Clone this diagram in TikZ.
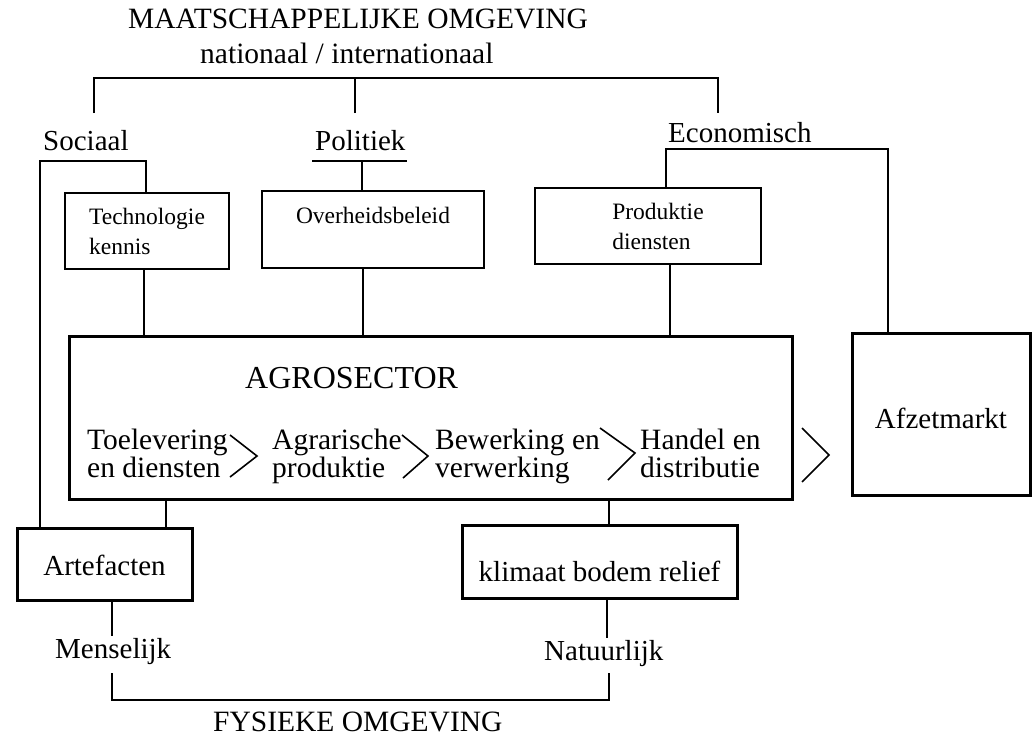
\documentclass[tikz,border=0pt]{standalone}
\usepackage{fontspec}
\setmainfont{Liberation Serif}
\begin{document}
\begin{tikzpicture}[x=1pt,y=-1pt,
  lbl/.style={inner sep=2pt, anchor=base west, font=\fontsize{29}{28}\selectfont},
  ttl/.style={inner sep=0pt, anchor=base west, font=\fontsize{29.5}{30}\selectfont},
  smallbox/.style={draw, line width=1.5pt, inner sep=0pt, font=\fontsize{23.5}{30}\selectfont, align=left},
  bigbox/.style={draw, line width=3pt, inner sep=0pt, font=\fontsize{29}{28}\selectfont},
  stage/.style={inner sep=0pt, anchor=base west, align=left, font=\fontsize{29.5}{28}\selectfont},
  conn/.style={line width=1.4pt},
  chev/.style={line width=1.6pt},
]
\useasboundingbox (0,0) rectangle (1032,737);

% titles
\node[ttl] (maat) at (128,28) {MAATSCHAPPELIJKE OMGEVING};
\node[ttl] (natint) at (200,63) {nationaal / internationaal};
\node[ttl] (fys) at (213,731) {FYSIEKE OMGEVING};

% labels
\node[lbl] (soc) at (41,150) {Sociaal};
\node[lbl] (pol) at (313,150) {Politiek};
\node[lbl] (eco) at (666,142) {Economisch};
\node[lbl] (mens) at (53,658) {Menselijk};
\node[lbl] (nat) at (542,660) {Natuurlijk};

% small boxes
\node[smallbox, minimum width=164pt, minimum height=76pt] (tech) at (147,231) {Technologie\\kennis};
\node[smallbox, minimum width=222pt, minimum height=77pt, text height=20pt, text depth=33pt] (ov) at (373,229.5) {Overheidsbeleid};
\node[smallbox, minimum width=226pt, minimum height=76pt] (prod) at (648,226) {\hspace*{20pt}Produktie\\\hspace*{20pt}diensten};

% agrosector
\node[bigbox, minimum width=723pt, minimum height=163pt] (agro) at (430.5,417.5) {};
\node[inner sep=0pt, anchor=base west, font=\fontsize{32}{32}\selectfont] (agt) at (245,388) {AGROSECTOR};
\node[stage] (s1) at (87,477) {Toelevering\\en diensten};
\node[stage] (s2) at (272,477) {Agrarische\\produktie};
\node[stage] (s3) at (435,477) {Bewerking en\\verwerking};
\node[stage] (s4) at (640,477) {Handel en\\distributie};
\draw[chev] (230,435) -- (257,456) -- (230,477);
\draw[chev] (402,435) -- (428,456) -- (403,478);
\draw[chev] (600,428) -- (635,453) -- (608,480);
\draw[chev] (802,428) -- (829,455) -- (802,482);

% other boxes
\node[bigbox, minimum width=178pt, minimum height=162pt, text height=28pt, text depth=0pt] (afz) at (941,414) {Afzetmarkt};
\node[bigbox, minimum width=175pt, minimum height=72pt, text height=22pt, text depth=0pt] (art) at (104.5,564) {Artefacten};
\node[bigbox, minimum width=275pt, minimum height=73pt, text height=39pt, text depth=0pt] (klim) at (599.5,561.5) {klimaat bodem relief};

% top bracket
\coordinate (tbar) at (0,78);
\coordinate (t1) at (94,113);
\coordinate (t2) at (355,113);
\coordinate (t3) at (718,113);
\draw[conn] (t1) -- (t1 |- tbar) -- (t3 |- tbar) -- (t3);
\draw[conn] (t2) -- (t2 |- tbar);

% sociaal
\coordinate (sb) at (40,161);
\coordinate (tx) at (146,0);
\draw[conn] (art.north -| sb) -- (sb) -- (sb -| tx) -- (tech.north -| tx);

% politiek
\coordinate (pu1) at (312,161);
\coordinate (pu2) at (407,161);
\coordinate (pv) at (362,161);
\draw[conn] (pu1) -- (pu2);
\draw[conn] (pv) -- (ov.north -| pv);

% economisch
\coordinate (eb1) at (666,149);
\coordinate (eb2) at (888,149);
\draw[conn] (prod.north -| eb1) -- (eb1) -- (eb2) -- (afz.north -| eb2);

% boxes to agrosector
\coordinate (x1) at (144,0);
\coordinate (x2) at (363,0);
\coordinate (x3) at (670,0);
\coordinate (x4) at (166,0);
\coordinate (x5) at (609,0);
\draw[conn] (tech.south -| x1) -- (agro.north -| x1);
\draw[conn] (ov.south -| x2) -- (agro.north -| x2);
\draw[conn] (prod.south -| x3) -- (agro.north -| x3);
\draw[conn] (agro.south -| x4) -- (art.north -| x4);
\draw[conn] (agro.south -| x5) -- (klim.north -| x5);

% physical environment
\coordinate (mx) at (112,0);
\coordinate (kx) at (607,0);
\draw[conn] (art.south -| mx) -- (mens.north -| mx);
\draw[conn] (klim.south -| kx) -- (nat.north -| kx);
\coordinate (fb) at (0,700);
\coordinate (m1) at (112,673);
\coordinate (n1) at (609,673);
\draw[conn] (m1) -- (m1 |- fb) -- (n1 |- fb) -- (n1);
\end{tikzpicture}
\end{document}
